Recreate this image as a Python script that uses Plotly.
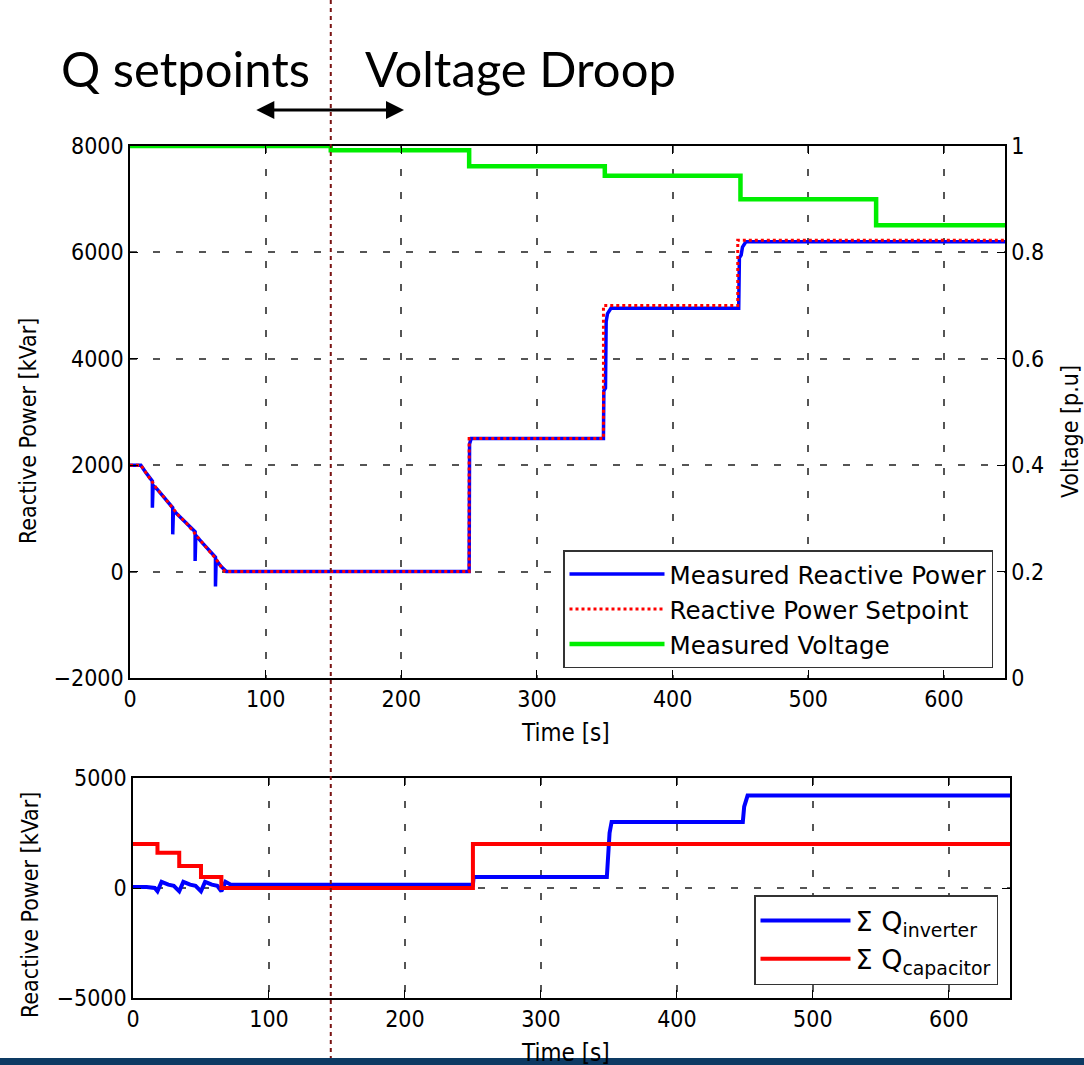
import plotly.graph_objects as go

# ---------------- data ----------------
# Total reactive power setpoint [kVar] vs time [s]
setpoint_t = [0, 8, 12, 16, 20, 25, 31, 36, 42, 48, 53, 58, 63, 67, 70,
              250, 250, 349, 349, 448, 448, 645]
setpoint_q = [2000, 2000, 1850, 1700, 1550, 1400, 1200, 1050, 900, 700, 550, 400, 250, 100, 0,
              0, 2500, 2500, 5000, 5000, 6230, 6230]

# Measured total reactive power [kVar]
measured_t = [0, 8, 12, 16.5, 16.5, 16.8, 17, 20, 25, 31.5, 31.5, 31.8, 32, 36, 42,
              48, 48, 48.3, 48.5, 53, 58, 63, 63, 63.3, 63.5, 67, 71,
              250, 250.3, 251.5, 349, 349.3, 350.5, 351, 352, 354.5,
              448.7, 449.2, 450.5, 451.5, 454, 645]
measured_q = [2000, 2000, 1850, 1700, 1200, 1500, 1620, 1550, 1400, 1200, 700, 1000, 1150, 1050, 900,
              750, 200, 500, 680, 550, 400, 270, -280, 50, 220, 100, 0,
              0, 2400, 2500, 2500, 3400, 3450, 4700, 4850, 4950,
              4950, 5900, 5950, 6100, 6200, 6200]

# Measured voltage [p.u] (stepwise)
voltage_t = [0, 148, 250, 350, 450, 550, 645]
voltage_v = [1.0, 0.992, 0.962, 0.944, 0.900, 0.851, 0.851]

# Split of the reactive power between inverters and capacitor banks [kVar]
inverter_t = [0, 10, 16, 18, 21, 26, 30, 34, 37, 42, 46, 50, 53, 58, 62, 65, 68, 72,
              250, 250.5, 348.5, 349.5, 350.5, 352, 448.5, 449.5, 451, 452, 645]
inverter_q = [50, 50, 0, -150, 280, 150, 100, -150, 280, 150, 100, -150, 280, 150, 100, -150, 280, 150,
              150, 500, 500, 1500, 2500, 3000, 3000, 3700, 4100, 4200, 4200]

capacitor_t = [0, 18, 34, 50, 65, 250, 645]
capacitor_q = [2000, 1600, 1000, 500, 0, 2000, 2000]

mode_switch_t = 148  # change from Q setpoints to voltage droop control

top_y_ticks = [-2000, 0, 2000, 4000, 6000, 8000]
volt_ticks = [0, 0.2, 0.4, 0.6, 0.8, 1]
volt_labels = ["0", "0.2", "0.4", "0.6", "0.8", "1"]
bottom_y_ticks = [-5000, 0, 5000]
time_ticks = [0, 100, 200, 300, 400, 500, 600]

# ---------------- layout helpers ----------------
W, H = 1084, 1065
FONT = "DejaVu Sans Condensed, DejaVu Sans, sans-serif"
FONT_WIDE = "DejaVu Sans, sans-serif"


def px_x(p):
    return p / W


def px_y(p):
    return 1 - p / H


GRID = dict(showgrid=True, gridcolor="#555555", gridwidth=2, griddash="7px,16px")
AX = dict(showline=True, linecolor="black", linewidth=1.5, mirror="ticks",
          ticks="inside", ticklen=8, tickcolor="black", zeroline=False, automargin=False,
          tickfont=dict(family=FONT, size=23, color="black"))

fig = go.Figure()

fig.add_trace(go.Scatter(x=measured_t, y=measured_q, mode="lines",
                         name="Measured Reactive Power",
                         line=dict(color="#0000ff", width=3.5),
                         xaxis="x", yaxis="y", legend="legend"))
fig.add_trace(go.Scatter(x=setpoint_t, y=setpoint_q, mode="lines",
                         name="Reactive Power Setpoint",
                         line=dict(color="#ff0000", width=3, dash="dot"),
                         xaxis="x", yaxis="y", legend="legend"))
fig.add_trace(go.Scatter(x=voltage_t, y=voltage_v, mode="lines",
                         name="Measured Voltage", line_shape="hv",
                         line=dict(color="#00ee00", width=4.5),
                         xaxis="x", yaxis="y2", legend="legend"))

fig.add_trace(go.Scatter(x=inverter_t, y=inverter_q, mode="lines",
                         name="Σ Q<sub>inverter</sub>",
                         line=dict(color="#0000ff", width=4),
                         xaxis="x2", yaxis="y3", legend="legend2"))
fig.add_trace(go.Scatter(x=capacitor_t, y=capacitor_q, mode="lines",
                         name="Σ Q<sub>capacitor</sub>", line_shape="hv",
                         line=dict(color="#ff0000", width=4),
                         xaxis="x2", yaxis="y3", legend="legend2"))

top_dom_x = [px_x(130), px_x(1005)]
top_dom_y = [px_y(678), px_y(146)]
bot_dom_x = [px_x(133), px_x(1010)]
bot_dom_y = [px_y(998), px_y(778)]

fig.update_layout(
    width=W, height=H,
    margin=dict(l=0, r=0, t=0, b=0, autoexpand=False),
    paper_bgcolor="white", plot_bgcolor="white",
    font=dict(family=FONT, color="black"),
    xaxis=dict(domain=top_dom_x, anchor="y", range=[0, 645], tickvals=time_ticks, **GRID, **AX),
    yaxis=dict(domain=top_dom_y, anchor="x", range=[-2000, 8000], tickvals=top_y_ticks,
               **GRID, **{**AX, "mirror": False}),
    yaxis2=dict(overlaying="y", side="right", anchor="x", range=[0, 1],
                tickvals=volt_ticks, ticktext=volt_labels, showgrid=False,
                **{**AX, "mirror": False}),
    xaxis2=dict(domain=bot_dom_x, anchor="y3", range=[0, 645], tickvals=time_ticks, **GRID, **AX),
    yaxis3=dict(domain=bot_dom_y, anchor="x2", range=[-5000, 5000], tickvals=bottom_y_ticks,
                **GRID, **AX),
    legend=dict(x=px_x(993), y=px_y(668), xanchor="right", yanchor="bottom",
                bgcolor="white", bordercolor="#333333", borderwidth=1.5,
                font=dict(family=FONT_WIDE, size=24.6, color="black"),
                itemwidth=95, tracegroupgap=0),
    legend2=dict(x=px_x(998), y=px_y(985), xanchor="right", yanchor="bottom",
                 bgcolor="white", bordercolor="#333333", borderwidth=1.5,
                 font=dict(family=FONT_WIDE, size=27, color="black"),
                 itemwidth=90, tracegroupgap=0),
    showlegend=True,
)

# vertical marker of the control mode change, across the whole figure
fig.add_shape(type="line", xref="x", yref="paper", x0=mode_switch_t, x1=mode_switch_t,
              y0=px_y(1060), y1=1, line=dict(color="#7a1414", width=2, dash="4px,4px"))

# dark strip along the bottom edge
fig.add_shape(type="rect", xref="paper", yref="paper", x0=0, x1=1, y0=0, y1=px_y(1058),
              fillcolor="#0d3a63", line=dict(width=0), layer="above")

annots = [
    dict(text="Q setpoints", x=px_x(185), y=px_y(68), size=49, fam="Lato, Open Sans, sans-serif"),
    dict(text="Voltage Droop", x=px_x(520), y=px_y(68), size=49, fam="Lato, Open Sans, sans-serif"),
    dict(text="Time [s]", x=px_x(565), y=px_y(733), size=24, fam=FONT),
    dict(text="Time [s]", x=px_x(565), y=px_y(1053), size=24, fam=FONT),
]
for a in annots:
    fig.add_annotation(text=a["text"], xref="paper", yref="paper", x=a["x"], y=a["y"],
                       xanchor="center", yanchor="middle", showarrow=False,
                       font=dict(family=a["fam"], size=a["size"], color="black"))

for text, x, y in [("Reactive Power [kVar]", 28, 431),
                   ("Voltage [p.u]", 1070, 432),
                   ("Reactive Power [kVar]", 30, 905)]:
    fig.add_annotation(text=text, xref="paper", yref="paper", x=px_x(x), y=px_y(y),
                       xanchor="center", yanchor="middle", showarrow=False, textangle=-90,
                       font=dict(family=FONT, size=23, color="black"))

# double-headed arrow under the mode labels
fig.add_annotation(xref="x", yref="paper", x=202, y=px_y(110),
                   axref="x", ayref="pixel", ax=92, ay=0, text="", showarrow=True,
                   arrowhead=2, arrowside="end+start", arrowsize=1.2, arrowwidth=3,
                   arrowcolor="black")

fig.write_html("out.html")
